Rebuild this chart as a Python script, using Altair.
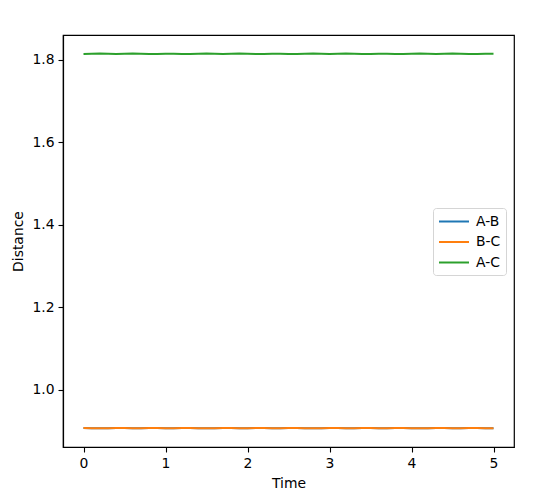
import altair as alt
import pandas as pd

time = [0.0, 0.1, 0.2, 0.3, 0.4, 0.5, 0.6, 0.7, 0.8, 0.9,
        1.0, 1.1, 1.2, 1.3, 1.4, 1.5, 1.6, 1.7, 1.8, 1.9,
        2.0, 2.1, 2.2, 2.3, 2.4, 2.5, 2.6, 2.7, 2.8, 2.9,
        3.0, 3.1, 3.2, 3.3, 3.4, 3.5, 3.6, 3.7, 3.8, 3.9,
        4.0, 4.1, 4.2, 4.3, 4.4, 4.5, 4.6, 4.7, 4.8, 4.9,
        5.0]

ab = [0.9074, 0.9072, 0.9070, 0.9073, 0.9076, 0.9074, 0.9070, 0.9072, 0.9075, 0.9074,
      0.9071, 0.9071, 0.9074, 0.9076, 0.9072, 0.9070, 0.9073, 0.9076, 0.9074, 0.9070,
      0.9072, 0.9075, 0.9074, 0.9071, 0.9071, 0.9074, 0.9076, 0.9072, 0.9070, 0.9073,
      0.9076, 0.9074, 0.9070, 0.9072, 0.9075, 0.9074, 0.9071, 0.9071, 0.9074, 0.9076,
      0.9072, 0.9070, 0.9073, 0.9076, 0.9074, 0.9070, 0.9072, 0.9075, 0.9074, 0.9071,
      0.9073]

bc = [0.9075, 0.9072, 0.9070, 0.9073, 0.9077, 0.9074, 0.9070, 0.9072, 0.9076, 0.9075,
      0.9071, 0.9071, 0.9075, 0.9077, 0.9072, 0.9070, 0.9073, 0.9077, 0.9074, 0.9070,
      0.9072, 0.9076, 0.9075, 0.9071, 0.9071, 0.9075, 0.9077, 0.9072, 0.9070, 0.9073,
      0.9077, 0.9074, 0.9070, 0.9072, 0.9076, 0.9075, 0.9071, 0.9071, 0.9075, 0.9077,
      0.9072, 0.9070, 0.9073, 0.9077, 0.9074, 0.9070, 0.9072, 0.9076, 0.9075, 0.9071,
      0.9073]

ac = [1.8146, 1.8150, 1.8153, 1.8148, 1.8143, 1.8149, 1.8153, 1.8150, 1.8144, 1.8146,
      1.8152, 1.8152, 1.8146, 1.8144, 1.8150, 1.8153, 1.8148, 1.8143, 1.8149, 1.8153,
      1.8150, 1.8144, 1.8146, 1.8152, 1.8152, 1.8146, 1.8144, 1.8150, 1.8153, 1.8148,
      1.8143, 1.8149, 1.8153, 1.8150, 1.8144, 1.8146, 1.8152, 1.8152, 1.8146, 1.8144,
      1.8150, 1.8153, 1.8148, 1.8143, 1.8149, 1.8153, 1.8150, 1.8144, 1.8146, 1.8152,
      1.8148]

series_names = ["A-B", "B-C", "A-C"]
series_colors = ["#1f77b4", "#ff7f0e", "#2ca02c"]
x_ticks = [0, 1, 2, 3, 4, 5]
y_ticks = [1.0, 1.2, 1.4, 1.6, 1.8]

rows = []
for name, vals in zip(series_names, [ab, bc, ac]):
    for i, (t, v) in enumerate(zip(time, vals)):
        rows.append({"Time": t, "Distance": v, "series": name, "order": i})
df = pd.DataFrame(rows)

FONT = "DejaVu Sans"

chart = alt.Chart(df).mark_line(strokeWidth=2).encode(
    x=alt.X("Time:Q",
            scale=alt.Scale(domain=[-0.25, 5.25], nice=False, zero=False),
            axis=alt.Axis(values=x_ticks, format="d", title="Time")),
    y=alt.Y("Distance:Q",
            scale=alt.Scale(domain=[0.8616, 1.8604], nice=False, zero=False),
            axis=alt.Axis(values=y_ticks, format=".1f", title="Distance")),
    color=alt.Color("series:N",
                    scale=alt.Scale(domain=series_names, range=series_colors),
                    legend=alt.Legend(title=None, orient="none", legendX=370, legendY=173,
                                      symbolType="M-1,0H3", symbolSize=225, symbolStrokeWidth=2,
                                      labelFont=FONT, labelFontSize=13.9, labelColor="#000000",
                                      labelOffset=21, rowPadding=4.5, padding=5,
                                      strokeColor="#d5d5d5", fillColor="#ffffff",
                                      cornerRadius=3)),
    detail="series:N",
    order="order:Q",
).properties(
    width=451,
    height=412,
    autosize=alt.AutoSizeParams(type="none"),
    padding={"left": 55, "top": 27, "right": 21, "bottom": 50},
).configure_view(
    stroke="#000000", strokeWidth=1.2
).configure_axis(
    grid=False,
    domainColor="#000000",
    domainWidth=1.2,
    tickColor="#000000",
    tickSize=5,
    tickWidth=1.1,
    labelFont=FONT,
    labelFontSize=13.9,
    labelColor="#000000",
    titleFont=FONT,
    titleFontSize=13.9,
    titleFontWeight="normal",
    titleColor="#000000",
).configure_axisX(
    labelPadding=4, titlePadding=7, labelFlush=False
).configure_axisY(
    labelPadding=4, titlePadding=6, labelFlush=False
)

chart.save("out.html", embed_options={"renderer": "svg", "actions": False})
